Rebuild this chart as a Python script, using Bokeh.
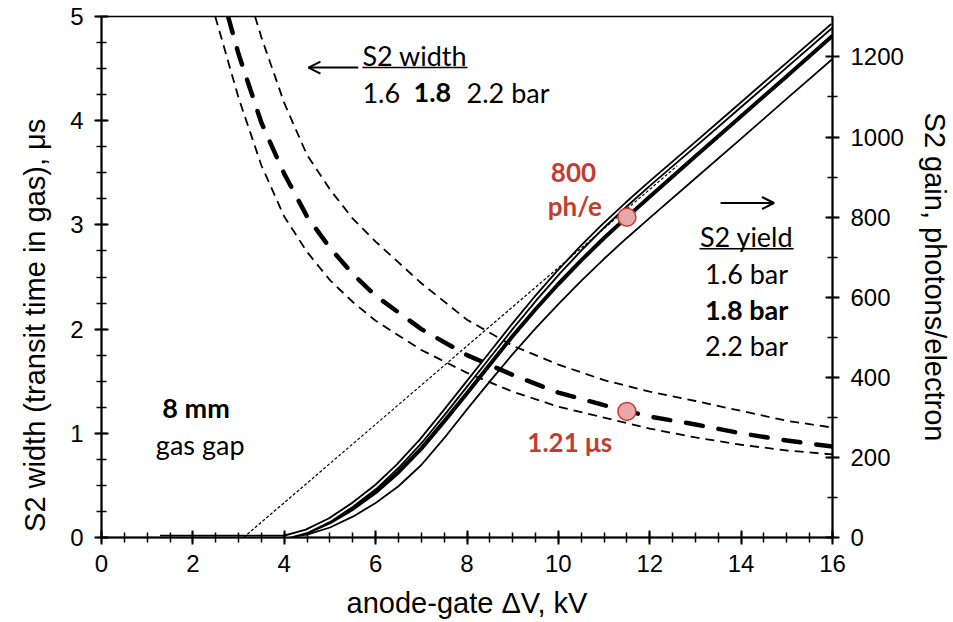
from bokeh.plotting import figure
from bokeh.models import Range1d, LinearAxis, FixedTicker, Arrow, OpenHead, Label
from bokeh.embed import file_html
from bokeh.resources import INLINE

# ---- S2 width (left axis, microseconds) ----
w16_kv = [2.49, 3.0, 3.5, 4.0, 4.5, 5.0, 5.5, 6.0, 7.0, 8.0, 9.0, 10.0, 11.0, 12.0, 13.0, 14.0, 15.0, 16.0]
w16_us = [5.0, 4.22, 3.57, 3.08, 2.74, 2.47, 2.26, 2.08, 1.80, 1.58, 1.40, 1.255, 1.15, 1.045, 0.96, 0.89, 0.835, 0.797]
w18_kv = [2.77, 3.0, 3.5, 4.0, 4.5, 5.0, 5.5, 6.0, 7.0, 8.0, 9.0, 10.0, 11.0, 12.0, 13.0, 14.0, 15.0, 16.0]
w18_us = [5.0, 4.64, 3.98, 3.49, 3.08, 2.78, 2.53, 2.32, 2.0, 1.75, 1.56, 1.39, 1.27, 1.16, 1.085, 1.0, 0.93, 0.873]
w22_kv = [3.36, 3.5, 4.0, 4.5, 5.0, 5.5, 6.0, 6.5, 7.0, 8.0, 9.0, 10.0, 11.0, 12.0, 13.0, 14.0, 15.0, 16.0]
w22_us = [5.0, 4.8, 4.17, 3.67, 3.34, 3.06, 2.84, 2.64, 2.44, 2.09, 1.84, 1.66, 1.51, 1.40, 1.31, 1.215, 1.12, 1.055]

# ---- S2 yield (right axis, photons/electron) ----
y_kv = [1.28, 4.0, 4.5, 5.0, 5.5, 6.0, 6.5, 7.0, 7.5, 8.0, 8.5, 9.0, 9.5, 10.0, 10.5, 11.0, 11.5, 12.0, 13.0, 14.0, 15.0, 16.0]
y16 = [0, 0, 16, 44, 82, 126, 180, 242, 312, 384, 456, 528, 597, 662, 723, 780, 833, 884, 982, 1081, 1180, 1279]
y18 = [0, 0, 13, 38, 72, 113, 163, 222, 290, 360, 432, 503, 570, 633, 692, 748, 800, 851, 952, 1052, 1152, 1253]
y22 = [0, 0, 7, 25, 52, 86, 128, 181, 248, 320, 390, 458, 522, 583, 641, 696, 748, 798, 897, 996, 1096, 1195]

# linear extrapolation (dotted)
fit_kv = [3.11, 12.6]
fit_gain = [0, 928]

# operating point
op_kv = [11.5]
op_gain = [800]
op_width = [1.21]

x_ticks = [0, 2, 4, 6, 8, 10, 12, 14, 16]
left_ticks = [0, 1, 2, 3, 4, 5]
right_ticks = [0, 200, 400, 600, 800, 1000, 1200]

AX_FONT = "Liberation Sans"
ANN_FONT = "Lato"
RED = "#c43b2f"

p = figure(width=953, height=622, x_range=Range1d(0, 16), y_range=Range1d(0, 5),
           output_backend="svg", toolbar_location=None,
           min_border_left=101, min_border_right=121, min_border_top=16, min_border_bottom=85)
p.extra_y_ranges = {"gain": Range1d(0, 1301)}
p.grid.visible = False
p.outline_line_color = "black"
p.outline_line_width = 1.5
p.background_fill_color = "white"
p.border_fill_color = "white"

right = LinearAxis(y_range_name="gain")
p.add_layout(right, "right")

p.xaxis.ticker = FixedTicker(ticks=x_ticks, minor_ticks=[i * 0.5 for i in range(33)])
p.yaxis[0].ticker = FixedTicker(ticks=left_ticks, minor_ticks=[i * 0.25 for i in range(21)])
right.ticker = FixedTicker(ticks=right_ticks, minor_ticks=[i * 100 for i in range(12)])

p.xaxis.axis_label = "anode-gate ΔV, kV"
# trailing no-break spaces shift the centred label down, as in the reference
p.yaxis[0].axis_label = "S2 width  (transit time in gas), μs" + "\u00a0" * 11
right.axis_label = "S2 gain, photons/electron"

for ax in [p.xaxis[0], p.yaxis[0], right]:
    ax.axis_line_width = 2
    ax.axis_line_color = "black"
    ax.major_tick_line_width = 2
    ax.minor_tick_line_width = 1.5
    ax.major_tick_in = 7
    ax.major_tick_out = 7
    ax.minor_tick_in = 5
    ax.minor_tick_out = 5
    ax.major_label_text_font = AX_FONT
    ax.major_label_text_font_size = "24px"
    ax.major_label_text_color = "black"
    ax.major_label_standoff = 11
    ax.axis_label_text_font = AX_FONT
    ax.axis_label_text_font_size = "29px"
    ax.axis_label_text_font_style = "normal"
    ax.axis_label_text_color = "black"
    ax.axis_label_standoff = 16

p.xaxis[0].major_label_standoff = 10
p.xaxis[0].axis_label_standoff = 12
right.axis_label_standoff = 12

# S2 width curves
p.line(w16_kv, w16_us, line_color="black", line_width=1.8, line_dash="9 6")
p.line(w22_kv, w22_us, line_color="black", line_width=1.8, line_dash="9 6")
p.line(w18_kv, w18_us, line_color="black", line_width=4.5, line_dash="17 16", line_cap="round")

# S2 yield curves
p.line(y_kv, y22, y_range_name="gain", line_color="black", line_width=1.8)
p.line(y_kv, y18, y_range_name="gain", line_color="black", line_width=4)
p.line(y_kv, y16, y_range_name="gain", line_color="black", line_width=5.5)
p.line(y_kv, y16, y_range_name="gain", line_color="white", line_width=1.8)
p.line(fit_kv, fit_gain, y_range_name="gain", line_color="black", line_width=1.2, line_dash="3 2")

# operating points
p.scatter(op_kv, op_gain, y_range_name="gain", size=18, fill_color="#e9a6a6",
          line_color=RED, line_width=1.5)
p.scatter(op_kv, op_width, size=18, fill_color="#e9a6a6", line_color=RED, line_width=1.5)

def lab(x, y, text, size="27px", bold=False, color="black", align="center"):
    p.add_layout(Label(x=x, y=y, text=text, text_font=ANN_FONT, text_font_size=size,
                       text_font_style="bold" if bold else "normal", text_color=color,
                       text_align=align, text_baseline="middle"))

# S2 width legend
lab(5.71, 4.63, "S2 width", align="left")
p.line([5.71, 8.01], [4.51, 4.51], line_color="black", line_width=1.5)
p.add_layout(Arrow(end=OpenHead(size=12, line_width=2), x_start=5.62, y_start=4.51,
                   x_end=4.53, y_end=4.51, line_width=2))
lab(5.71, 4.27, "1.6", align="left")
lab(6.83, 4.27, "1.8", bold=True, align="left")
lab(7.99, 4.27, "2.2 bar", align="left")

# S2 yield legend
p.add_layout(Arrow(end=OpenHead(size=12, line_width=2), x_start=13.55, y_start=3.21,
                   x_end=14.72, y_end=3.21, line_width=2))
lab(14.12, 2.89, "S2 yield")
p.line([13.09, 15.15], [2.77, 2.77], line_color="black", line_width=1.5)
lab(14.12, 2.53, "1.6 bar")
lab(14.12, 2.19, "1.8 bar", bold=True)
lab(14.12, 1.84, "2.2 bar")

# gap note
lab(2.07, 1.25, "8 mm", bold=True)
lab(2.16, 0.89, "gas gap")

# operating-point notes
lab(10.33, 3.50, "800", bold=True, color=RED, size="26px")
lab(10.36, 3.18, "ph/e", bold=True, color=RED, size="26px")
lab(10.25, 0.92, "1.21 μs", bold=True, color=RED, size="26px")

open("out.html", "w").write(file_html(p, INLINE))
